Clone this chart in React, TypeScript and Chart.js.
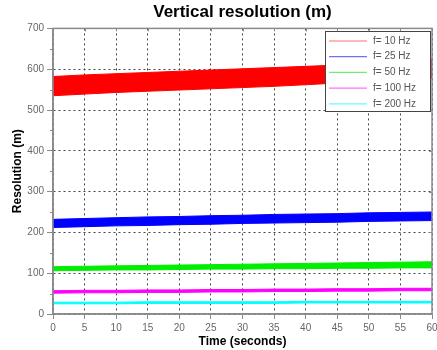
import React, { useEffect, useRef } from "react";
import { Chart, registerables } from "chart.js";

Chart.register(...registerables);

const times = [0, 5, 10, 15, 20, 25, 30, 35, 40, 45, 50, 55, 60];
const labels10 = "f= 10 Hz";
const labels25 = "f= 25 Hz";
const labels50 = "f= 50 Hz";
const labels100 = "f= 100 Hz";
const labels200 = "f= 200 Hz";

const red10Upper = [582, 586, 589, 592, 595, 598, 601, 604, 607, 610, 614, 618, 625];
const red10Lower = [535, 539, 543, 546, 549, 552, 555, 558, 562, 566, 570, 574, 578];
const blue25Upper = [232, 234, 236, 238, 239, 241, 242, 244, 245, 246, 248, 249, 250];
const blue25Lower = [212, 214, 216, 217, 219, 220, 222, 223, 224, 225, 227, 228, 229];
const green50Upper = [116, 117, 118, 119, 120, 121, 122, 123, 124, 125, 126, 127, 128];
const green50Lower = [106, 107, 108, 108, 109, 110, 110, 111, 111, 112, 112, 113, 113];
const mag100Upper = [57, 58, 58, 59, 59, 60, 60, 61, 61, 62, 62, 63, 63];
const mag100Lower = [51, 52, 52, 53, 53, 54, 54, 55, 55, 56, 56, 57, 57];
const cyan200Upper = [29, 29, 29, 30, 30, 30, 30, 30, 31, 31, 31, 31, 31];
const cyan200Lower = [25, 25, 25, 26, 26, 26, 26, 26, 27, 27, 27, 27, 27];

const yTicks = [0, 100, 200, 300, 400, 500, 600, 700];
const xTicks = [0, 5, 10, 15, 20, 25, 30, 35, 40, 45, 50, 55, 60];

const bands = [
  { label: labels10, color: "#ff0000", legendColor: "#ff7070", upper: red10Upper, lower: red10Lower },
  { label: labels25, color: "#0000ff", legendColor: "#7070ff", upper: blue25Upper, lower: blue25Lower },
  { label: labels50, color: "#00ee00", legendColor: "#70ee70", upper: green50Upper, lower: green50Lower },
  { label: labels100, color: "#ff00ff", legendColor: "#ff70ff", upper: mag100Upper, lower: mag100Lower },
  { label: labels200, color: "#00ffff", legendColor: "#60ffff", upper: cyan200Upper, lower: cyan200Lower },
];

const FONT = "'Liberation Sans', Arial, sans-serif";

const framePlugin = {
  id: "frame",
  afterDraw(chart: any) {
    const { ctx, chartArea } = chart;
    const { left, right, top, bottom } = chartArea;
    const xs = chart.scales.x;
    const ys = chart.scales.y;
    ctx.save();
    ctx.setLineDash([]);
    ctx.strokeStyle = "#8a8a8a";
    ctx.lineWidth = 1.5;
    ctx.strokeRect(left, top, right - left, bottom - top);
    ctx.lineWidth = 1;
    for (let v = 50; v < 700; v += 100) {
      const y = Math.round(ys.getPixelForValue(v)) + 0.5;
      ctx.beginPath();
      ctx.moveTo(left - 3, y);
      ctx.lineTo(left, y);
      ctx.stroke();
    }
    xTicks.forEach((t) => {
      const x = Math.round(xs.getPixelForValue(t)) + 0.5;
      ctx.beginPath();
      ctx.moveTo(x, top);
      ctx.lineTo(x, top + 3);
      ctx.stroke();
    });
    yTicks.forEach((t) => {
      const y = Math.round(ys.getPixelForValue(t)) + 0.5;
      ctx.beginPath();
      ctx.moveTo(right, y);
      ctx.lineTo(right - 3, y);
      ctx.stroke();
    });

    const bx = 325.5, by = 31.5, bw = 105, bh = 80;
    ctx.fillStyle = "#ffffff";
    ctx.fillRect(bx, by, bw, bh);
    ctx.strokeStyle = "#444444";
    ctx.lineWidth = 1;
    ctx.strokeRect(bx, by, bw, bh);
    ctx.font = "10px " + FONT;
    ctx.textBaseline = "middle";
    ctx.textAlign = "left";
    bands.forEach((b, i) => {
      const y = 41 + i * 15.7;
      ctx.strokeStyle = b.legendColor;
      ctx.lineWidth = 1.2;
      ctx.beginPath();
      ctx.moveTo(329, y);
      ctx.lineTo(367, y);
      ctx.stroke();
      ctx.fillStyle = "#555555";
      ctx.fillText(b.label, 373, y);
    });
    ctx.restore();
  },
};

export default function App() {
  const ref = useRef<HTMLCanvasElement>(null);
  useEffect(() => {
    document.body.style.margin = "0";
    if (!ref.current) return;
    const datasets: any[] = [];
    bands.forEach((b) => {
      datasets.push({
        label: b.label,
        data: times.map((t, i) => ({ x: t, y: b.upper[i] })),
        borderColor: b.color,
        backgroundColor: b.color,
        borderWidth: 1,
        pointRadius: 0,
        fill: false,
      });
      datasets.push({
        label: b.label + " (lower)",
        data: times.map((t, i) => ({ x: t, y: b.lower[i] })),
        borderColor: b.color,
        backgroundColor: b.color,
        borderWidth: 1,
        pointRadius: 0,
        fill: "-1",
      });
    });
    const chart = new Chart(ref.current, {
      type: "line",
      data: { datasets },
      options: {
        animation: false,
        responsive: false,
        layout: { padding: { left: 0, right: 0, top: 0, bottom: 0 } },
        plugins: {
          legend: { display: false },
          tooltip: { enabled: false },
          title: {
            display: true,
            fullSize: false,
            text: "Vertical resolution (m)",
            color: "#000",
            font: { family: FONT, size: 17, weight: "bold" },
            padding: { top: 2, bottom: 6 },
          },
        },
        scales: {
          x: {
            type: "linear",
            min: 0,
            max: 60,
            z: 1,
            afterFit: (s: any) => { s.height = 36; s.paddingRight = 5; },
            ticks: {
              stepSize: 5,
              color: "#666",
              padding: 3,
              font: { family: FONT, size: 10 },
            },
            grid: {
              color: "#444",
              tickBorderDash: [],
              tickColor: "#8a8a8a",
              tickLength: 5,
            } as any,
            border: { display: true, color: "#8a8a8a", width: 1.5, dash: [2, 3] } as any,
            title: {
              display: true,
              text: "Time (seconds)",
              color: "#000",
              font: { family: FONT, size: 12, weight: "bold" },
              padding: { top: 0, bottom: 1 },
            },
          },
          y: {
            type: "linear",
            min: 0,
            max: 700,
            z: 1,
            afterFit: (s: any) => { s.width = 53; },
            ticks: {
              stepSize: 100,
              color: "#666",
              padding: 3,
              font: { family: FONT, size: 10 },
            },
            grid: {
              color: "#444",
              tickBorderDash: [],
              tickColor: "#8a8a8a",
              tickLength: 6,
            } as any,
            border: { display: true, color: "#8a8a8a", width: 1.5, dash: [2, 3] } as any,
            title: {
              display: true,
              text: "Resolution (m)",
              color: "#000",
              font: { family: FONT, size: 12, weight: "bold" },
              padding: { top: 10, bottom: 0 },
            },
          },
        },
      } as any,
      plugins: [framePlugin],
    });
    return () => chart.destroy();
  }, []);
  return (
    <div style={{ width: 437, height: 350 }}>
      <canvas ref={ref} width={437} height={350} />
    </div>
  );
}
